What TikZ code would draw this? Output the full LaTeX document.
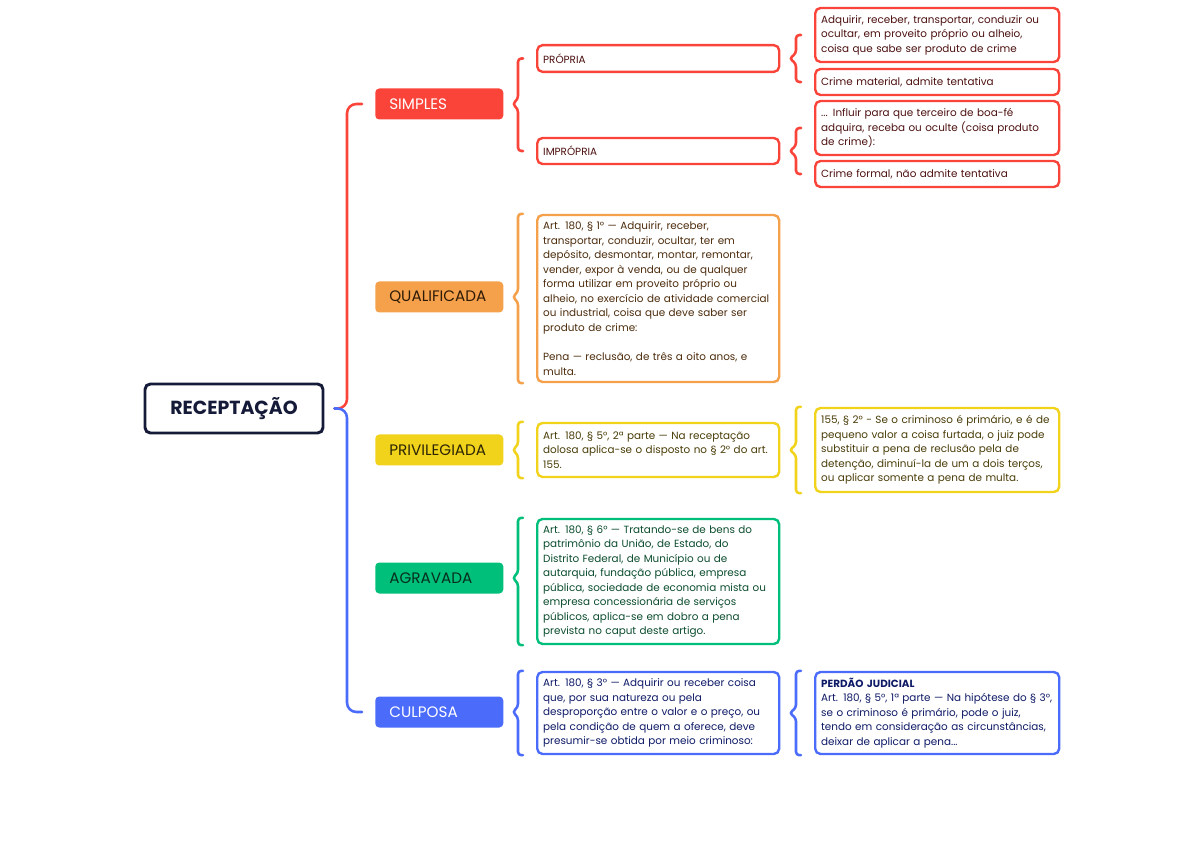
\documentclass[tikz,border=0pt]{standalone}
\usepackage{fontspec}
\setmainfont{Poppins}
\usetikzlibrary{calc}

\definecolor{mmnavy}{HTML}{151A38}
\definecolor{mmred}{HTML}{FB4439}
\definecolor{mmorange}{HTML}{F5A04B}
\definecolor{mmyellow}{HTML}{F2D31B}
\definecolor{mmgreen}{HTML}{00BF7A}
\definecolor{mmblue}{HTML}{4B6BFB}
\definecolor{txtred}{HTML}{4D1010}
\definecolor{txtorange}{HTML}{4D2C0C}
\definecolor{txtyellow}{HTML}{4A3D08}
\definecolor{txtgreen}{HTML}{0B4D2E}
\definecolor{txtblue}{HTML}{0E1A66}

% brace: colour, tip, top end, bottom end
\newcommand{\mmbrace}[4]{%
    \draw[#1, brace] ($(#3)+(-13,0)$) -- ($(#3)+(-18,0)$)
        -- ($(#3 |- #2)+(-18,-5)$) -- ($(#2)+(9,0)$)
        -- ($(#3 |- #2)+(-18,5)$) -- ($(#4)+(-18,0)$) -- ($(#4)+(-13,0)$);}

\begin{document}
\begin{tikzpicture}[
        x=0.75pt, y=-0.75pt,
        font=\fontsize{7.8}{10.9}\selectfont,
        brace/.style={
            line width=1.9pt,
            rounded corners=2.5pt,
            line cap=round
        },
        root/.style={
            draw=mmnavy,
            line width=2.2pt,
            rounded corners=4pt,
            minimum width=133.5pt,
            minimum height=36.75pt,
            text=mmnavy,
            font=\fontsize{14.2}{16}\selectfont\bfseries
        },
        cat/.style={
            rounded corners=3pt,
            minimum width=96pt,
            minimum height=23.25pt,
            text width=75pt,
            inner xsep=10.5pt,
            align=left,
            anchor=west,
            font=\fontsize{11.4}{13}\selectfont
        },
        leaf/.style={
            draw,
            fill=white,
            line width=1.8pt,
            rounded corners=4pt,
            align=left,
            inner xsep=4.5pt,
            inner ysep=2pt,
            text width=172.5pt,
            anchor=west
        },
        far/.style={
            leaf,
            text width=174pt
        }
    ]
    \fill[white] (0,0) rectangle (1200,848);
    \useasboundingbox (0,0) rectangle (1200,848);

    \node[root] (receptacao) at (234,408.5) {RECEPTAÇÃO};

    \node[cat, fill=mmred, text=white] (simples) at (375,104) {SIMPLES};
    \node[cat, fill=mmorange, text=txtorange!60!black] (qualificada) at (375,297) {QUALIFICADA};
    \node[cat, fill=mmyellow, text=txtyellow!60!black] (privilegiada) at (375,450) {PRIVILEGIADA};
    \node[cat, fill=mmgreen, text=txtgreen!60!black] (agravada) at (375,578) {AGRAVADA};
    \node[cat, fill=mmblue, text=white] (culposa) at (375,712) {CULPOSA};

    % simples
    \node[leaf, draw=mmred, text=txtred, minimum height=20pt] (propria) at (536,58.5) {PRÓPRIA};
    \node[leaf, draw=mmred, text=txtred, minimum height=19.5pt] (impropria) at (536,151) {IMPRÓPRIA};
    \node[far, draw=mmred, text=txtred, minimum height=40.5pt] (propriaa) at (814,35) {Adquirir, receber, transportar, conduzir ou\\
    ocultar, em proveito próprio ou alheio,\\
    coisa que sabe ser produto de crime};
    \node[far, draw=mmred, text=txtred, minimum height=19.5pt] (propriab) at (814,82) {Crime material, admite tentativa};
    \node[far, draw=mmred, text=txtred, minimum height=40.5pt] (impropriaa) at (814,128) {... Influir para que terceiro de boa-fé\\
    adquira, receba ou oculte (coisa produto\\
    de crime):};
    \node[far, draw=mmred, text=txtred, minimum height=19.5pt] (impropriab) at (814,174) {Crime formal, não admite tentativa};

    % qualificada
    \node[leaf, draw=mmorange, text=txtorange, minimum height=125.25pt] (qualtext) at (536,298.5) {Art. 180, § 1° — Adquirir, receber,\\
    transportar, conduzir, ocultar, ter em\\
    depósito, desmontar, montar, remontar,\\
    vender, expor à venda, ou de qualquer\\
    forma utilizar em proveito próprio ou\\
    alheio, no exercício de atividade comercial\\
    ou industrial, coisa que deve saber ser\\
    produto de crime:\\[10.9pt]
    Pena — reclusão, de três a oito anos, e\\
    multa.};

    % privilegiada
    \node[leaf, draw=mmyellow, text=txtyellow, minimum height=40.5pt] (privtext) at (536,450) {Art. 180, § 5°, 2ª parte — Na receptação\\
    dolosa aplica-se o disposto no § 2° do art.\\
    155.};
    \node[far, draw=mmyellow, text=txtyellow, minimum height=63pt] (furto) at (814,450) {155, § 2° - Se o criminoso é primário, e é de\\
    pequeno valor a coisa furtada, o juiz pode\\
    substituir a pena de reclusão pela de\\
    detenção, diminuí-la de um a dois terços,\\
    ou aplicar somente a pena de multa.};

    % agravada
    \node[leaf, draw=mmgreen, text=txtgreen, minimum height=93.75pt] (agravtext) at (536,581.5) {Art. 180, § 6° — Tratando-se de bens do\\
    patrimônio da União, de Estado, do\\
    Distrito Federal, de Município ou de\\
    autarquia, fundação pública, empresa\\
    pública, sociedade de economia mista ou\\
    empresa concessionária de serviços\\
    públicos, aplica-se em dobro a pena\\
    prevista no caput deste artigo.};

    % culposa
    \node[leaf, draw=mmblue, text=txtblue, minimum height=61.5pt] (culptext) at (536,713) {Art. 180, § 3° — Adquirir ou receber coisa\\
    que, por sua natureza ou pela\\
    desproporção entre o valor e o preço, ou\\
    pela condição de quem a oferece, deve\\
    presumir-se obtida por meio criminoso:};
    \node[far, draw=mmblue, text=txtblue, minimum height=61.5pt] (perdao) at (814,713) {{\bfseries PERDÃO JUDICIAL}\\
    Art. 180, § 5°, 1ª parte — Na hipótese do § 3°,\\
    se o criminoso é primário, pode o juiz,\\
    tendo em consideração as circunstâncias,\\
    deixar de aplicar a pena...};

    \draw[mmred, brace, rounded corners=7pt] ($(receptacao.east)+(10,0)$) -| ($(simples.west)+(-28,0)$) -- ($(simples.west)+(-13,0)$);
    \draw[mmblue, brace, rounded corners=7pt] ($(receptacao.east)+(10,0)$) -| ($(culposa.west)+(-28,0)$) -- ($(culposa.west)+(-13,0)$);

    \mmbrace{mmred}{simples.east}{propria.west}{impropria.west}
    \mmbrace{mmred}{propria.east}{propriaa.west}{propriab.west}
    \mmbrace{mmred}{impropria.east}{impropriaa.west}{impropriab.west}
    \mmbrace{mmorange}{qualificada.east}{qualtext.north west}{qualtext.south west}
    \mmbrace{mmyellow}{privilegiada.east}{privtext.north west}{privtext.south west}
    \mmbrace{mmyellow}{privtext.east}{furto.north west}{furto.south west}
    \mmbrace{mmgreen}{agravada.east}{agravtext.north west}{agravtext.south west}
    \mmbrace{mmblue}{culposa.east}{culptext.north west}{culptext.south west}
    \mmbrace{mmblue}{culptext.east}{perdao.north west}{perdao.south west}
\end{tikzpicture}
\end{document}
